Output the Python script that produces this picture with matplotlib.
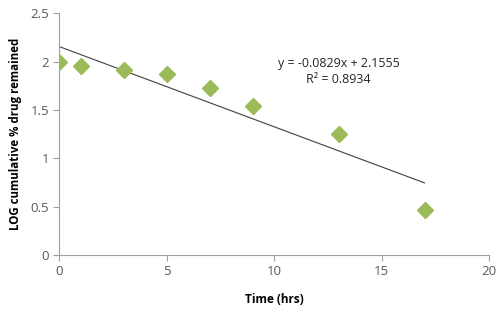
import numpy as np
import matplotlib.pyplot as plt

time_hrs = [0, 1, 3, 5, 7, 9, 13, 17]
log_remained = [2.0, 1.95, 1.91, 1.87, 1.73, 1.54, 1.25, 0.47]
slope = -0.0829
intercept = 2.1555
r2 = 0.8934

plt.rcParams['font.family'] = ['Open Sans', 'DejaVu Sans']

fig = plt.figure(figsize=(5, 3.13), dpi=100)
ax = fig.add_axes([0.118, 0.185, 0.86, 0.773])

xfit = np.array([time_hrs[0], time_hrs[-1]])
ax.plot(xfit, slope * xfit + intercept, color='#404040', lw=0.8, zorder=2)
ax.plot(time_hrs, log_remained, 'D', color='#9BBB59', ms=8, mec='#9BBB59', zorder=3)

ax.text(13.0, 1.98, 'y = %.4fx + %.4f' % (slope, intercept), ha='center', va='center', fontsize=9, color='#262626')
ax.text(13.0, 1.81, 'R² = %.4f' % r2, ha='center', va='center', fontsize=9, color='#262626')

ax.set_xlim(0, 20)
ax.set_ylim(0, 2.5)
ax.set_xticks([0, 5, 10, 15, 20])
ax.set_yticks([0, 0.5, 1, 1.5, 2, 2.5])
ax.set_yticklabels(['0', '0.5', '1', '1.5', '2', '2.5'])
for s in ['top', 'right']:
    ax.spines[s].set_visible(False)
for s in ['left', 'bottom']:
    ax.spines[s].set_color('#a0a0a0')
    ax.spines[s].set_linewidth(0.8)
ax.tick_params(direction='out', length=4, width=0.8, color='#a0a0a0', labelsize=9.5, labelcolor='#595959', pad=3)
ax.set_xlabel('Time (hrs)', fontsize=8.5, fontweight='bold', labelpad=11)
ax.set_ylabel('LOG cumulative % drug remained', fontsize=8.3, fontweight='bold', labelpad=6)

plt.savefig('out.png', dpi=100)
